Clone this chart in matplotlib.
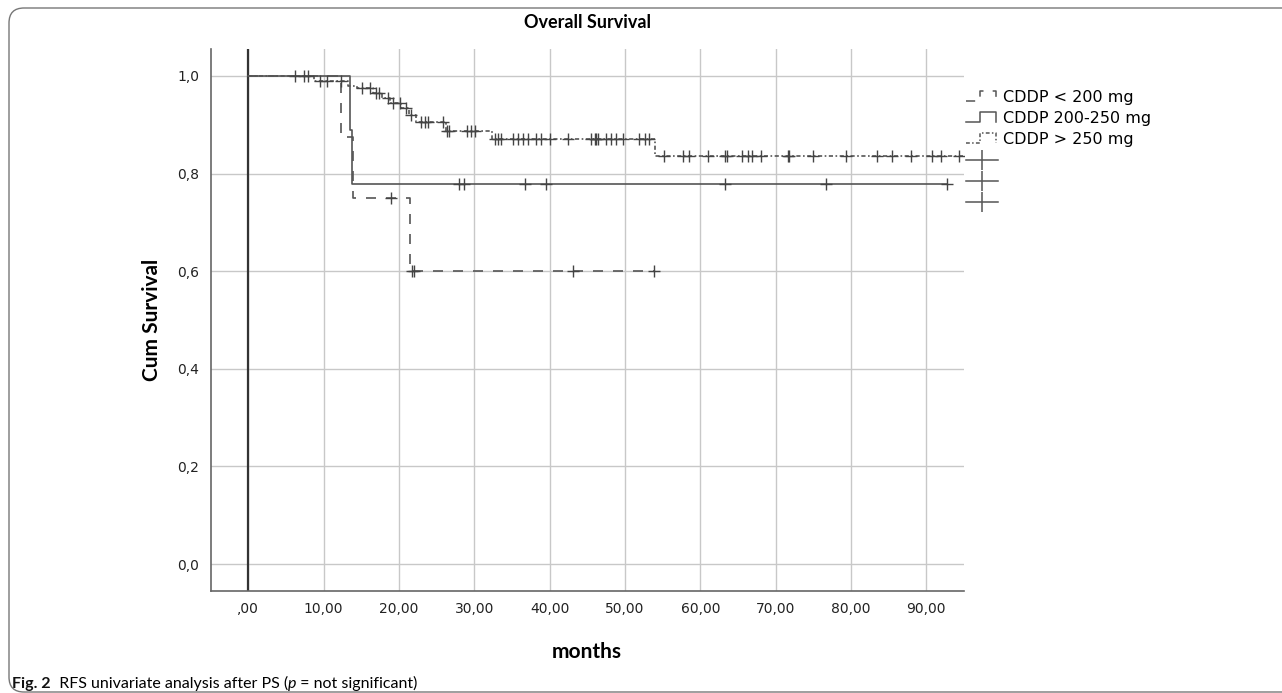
import numpy as np
import matplotlib
matplotlib.use("Agg")
import matplotlib.pyplot as plt
from matplotlib.lines import Line2D
from matplotlib.patches import FancyBboxPatch
from matplotlib.legend_handler import HandlerLine2D

# ---- data (months, cumulative survival) ----
lo_event_t = [12.3, 13.9, 21.5]
lo_event_s = [0.875, 0.75, 0.60]
lo_censor = [18.9, 21.7, 22.0, 43.1, 53.9]
lo_end = 53.9

mid_event_t = [13.5, 13.8]
mid_event_s = [0.889, 0.778]
mid_censor = [28.0, 28.6, 36.8, 39.5, 63.3, 76.7, 92.8]
mid_end = 92.8

hi_event_t = [8.8, 13.2, 14.5, 16.5, 17.8, 18.8, 20.3, 21.3, 22.3, 26.2, 32.4, 54.0]
hi_event_s = [0.99, 0.98, 0.975, 0.965, 0.955, 0.945, 0.935, 0.92, 0.905, 0.888, 0.87, 0.835]
hi_censor = [6.2, 7.4, 7.9, 9.5, 10.4, 12.3, 15.1, 16.2, 17.0, 17.4, 18.5, 19.2, 20.1,
             21.0, 21.6, 23.0, 23.5, 23.9, 25.9, 26.4, 26.7, 29.0, 29.6, 30.1, 32.7,
             33.2, 33.6, 35.1, 35.8, 36.5, 37.1, 38.2, 38.9, 40.0, 42.4, 45.5, 46.0,
             46.2, 46.4, 47.5, 48.2, 48.8, 49.7, 51.9, 52.6, 53.2, 55.2, 57.7, 58.5,
             61.0, 63.3, 63.5, 65.6, 66.3, 66.9, 68.0, 71.6, 71.8, 75.0, 79.3, 83.5,
             85.5, 87.9, 90.8, 91.9, 94.3]
hi_end = 95.0

labels = ["CDDP < 200 mg", "CDDP 200-250 mg", "CDDP > 250 mg"]
x_ticks = [0, 10, 20, 30, 40, 50, 60, 70, 80, 90]
y_ticks = [0.0, 0.2, 0.4, 0.6, 0.8, 1.0]

line_col = "#555555"
styles = [(0, (6, 6)), "-", (0, (2.5, 1.5, 1, 1.5))]

W, H = 1282, 693
fig = plt.figure(figsize=(W / 100, H / 100), dpi=100)
ax = fig.add_axes([210.5 / W, 1 - 591 / H, (964 - 210.5) / W, (591 - 49) / H])


def km_curve(ax, ev_t, ev_s, cens, end, ls):
    t = np.r_[0, ev_t, end]
    s = np.r_[1.0, ev_s, ev_s[-1]]
    ax.step(t, s, where="post", color=line_col, lw=1.2, ls=ls, zorder=3)
    idx = np.searchsorted(np.r_[0, ev_t], cens, side="right") - 1
    cs = np.r_[1.0, ev_s][idx]
    ax.plot(cens, cs, ls="none", marker="+", ms=9, mew=1.0, color="#444444", zorder=4)


km_curve(ax, lo_event_t, lo_event_s, lo_censor, lo_end, styles[0])
km_curve(ax, mid_event_t, mid_event_s, mid_censor, mid_end, styles[1])
km_curve(ax, hi_event_t, hi_event_s, hi_censor, hi_end, styles[2])

ax.set_xlim(-5, 95)
ax.set_ylim(-0.055, 1.055)
ax.set_xticks(x_ticks)
ax.set_yticks(y_ticks)
ax.set_xticklabels([(",00" if v == 0 else f"{v},00") for v in x_ticks])
ax.set_yticklabels([f"{v:.1f}".replace(".", ",") for v in y_ticks])
ax.tick_params(length=0, labelsize=10, pad=8, colors="#222222")
ax.grid(True, color="#c8c8c8", lw=1.0)
ax.set_axisbelow(True)
ax.axvline(0, color="#333333", lw=1.6, zorder=2)
for sp in ["top", "right"]:
    ax.spines[sp].set_visible(False)
for sp in ["left", "bottom"]:
    ax.spines[sp].set_color("#666666")
    ax.spines[sp].set_linewidth(1.2)

head = ["Lato", "Open Sans", "DejaVu Sans"]
fig.text(587 / W, 1 - 22 / H, "Overall Survival", ha="center", va="center",
         fontsize=13, fontweight="bold", family=head)
fig.text(152 / W, 1 - 320 / H, "Cum Survival", ha="center", va="center", rotation=90,
         fontsize=15, fontweight="bold", family=head)
fig.text(587 / W, 1 - 652 / H, "months", ha="center", va="center",
         fontsize=15, fontweight="bold", family=head)


class StepHandler(HandlerLine2D):
    def create_artists(self, legend, orig_handle, xdescent, ydescent, width, height,
                       fontsize, trans):
        xs = np.array([0.0, 0.45, 0.45, 0.95, 0.95]) * width - xdescent
        ys = np.array([0.1, 0.1, 1.0, 1.0, 0.1]) * height - ydescent
        ln = Line2D(xs, ys)
        self.update_prop(ln, orig_handle, legend)
        ln.set_transform(trans)
        return [ln]


handles = [Line2D([], [], color=line_col, lw=1.1, ls=s) for s in styles]
cross = [Line2D([], [], color=line_col, lw=1.1, marker="|", ms=15, mew=1.1) for _ in styles]
fig.legend(handles + cross, labels + ["", "", ""], loc="upper left",
           bbox_to_anchor=(966 / W, 1 - 90 / H), frameon=False, fontsize=11.5,
           handlelength=2.0, handletextpad=0.3, labelspacing=0.38, borderpad=0,
           borderaxespad=0, handler_map={h: StepHandler() for h in handles})

# figure frame and caption
frame = FancyBboxPatch((0.09, 0.01), 13.5, 6.84, boxstyle="round,pad=0,rounding_size=0.15",
                       transform=fig.dpi_scale_trans, fill=False, ec="#777777", lw=1.0)
fig.patches.append(frame)

t1 = fig.text(12 / W, 1 - 688 / H, "Fig. 2", fontsize=11.5, fontweight="bold",
              family=head, va="baseline", color="#111111")
a2 = plt.annotate("  RFS univariate analysis after PS (", xy=(1, 0), xycoords=t1,
                  va="bottom", fontsize=11.5, family=head, annotation_clip=False)
a3 = plt.annotate("p", xy=(1, 0), xycoords=a2, va="bottom", fontsize=11.5,
                  family=head, style="italic", annotation_clip=False)
a4 = plt.annotate(" = not significant)", xy=(1, 0), xycoords=a3, va="bottom",
                  fontsize=11.5, family=head, annotation_clip=False)

fig.savefig("out.png", dpi=100)
